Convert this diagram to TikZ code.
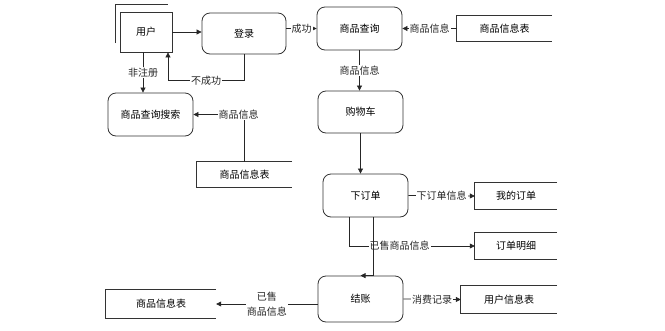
\documentclass[tikz,border=0pt]{standalone}
\usepackage{fontspec}
\setmainfont{Noto Sans CJK SC}
\usetikzlibrary{arrows.meta}
\newcommand\storelines[1]{\draw[line width=0.8pt,black!80] (#1.north east) -- (#1.north west) -- (#1.south west) -- (#1.south east);}
\begin{document}
\begin{tikzpicture}[x=1pt,y=-1pt,font=\fontsize{10}{15}\selectfont,
  proc/.style={draw=black!80,line width=0.8pt,rounded corners=8pt,minimum width=85pt,minimum height=43pt,inner sep=0pt},
  entity/.style={draw=black!80,line width=0.8pt,minimum width=52pt,minimum height=40pt,inner sep=0pt},
  store/.style={minimum height=26pt,inner sep=0pt},
  flow/.style={-{Triangle[length=5pt,width=5pt]},line width=0.7pt,black!85},
  lbl/.style={fill=white,inner sep=1pt}]
\useasboundingbox (0,0) rectangle (665,330);

\node[entity] (user) at (146,32) {用户};
\draw[line width=0.8pt,black!80] (115,43) -- (115,4) -- (168,4);
\node[proc,minimum width=84pt,minimum height=41pt] (login) at (244,33.5) {登录};
\node[proc] (query) at (359.5,28.5) {商品查询};
\node[store,minimum width=95pt,minimum height=25pt] (goodsA) at (504.5,28.5) {商品信息表};
\storelines{goodsA}

\node[proc] (search) at (150.5,114.5) {商品查询搜索};
\node[store,minimum width=95pt,minimum height=25pt] (goodsB) at (244.5,174.5) {商品信息表};
\storelines{goodsB}

\node[proc,minimum height=42pt] (cart) at (360.5,112) {购物车};
\node[proc] (order) at (365.5,195.5) {下订单};
\node[store,minimum width=82pt] (myorder) at (516,196) {我的订单};
\storelines{myorder}
\node[store,minimum width=82pt] (detail) at (516,246) {订单明细};
\storelines{detail}

\node[proc,minimum height=46pt] (pay) at (360.5,299) {结账};
\node[store,minimum width=110pt,minimum height=28pt] (goodsC) at (161,304) {商品信息表};
\storelines{goodsC}
\node[store,minimum width=96pt,minimum height=27pt] (userinfo) at (509,299.5) {用户信息表};
\storelines{userinfo}

\draw[flow] (user.east) -- (user.east -| login.west);
\draw[flow] (login.east |- query.east) -- node[lbl] {成功} (query.west);
\draw[flow] (login.south) -- ++(0,26) -| node[lbl,pos=0.25] {不成功} ([xshift=22]user.south);
\draw[flow] ([xshift=-3]user.south) -- node[lbl] {非注册} ([xshift=-3]user.south |- search.north);
\draw[flow] (goodsA.west) -- node[lbl] {商品信息} (query.east);
\draw[flow] (goodsB.north) |- node[lbl,pos=0.5,xshift=-6] {商品信息} (search.east);
\draw[flow] (query.south) -- node[lbl] {商品信息} (query.south |- cart.north);
\draw[flow] (cart.south) -- (cart.south |- order.north);
\draw[flow] (order.east) -- node[lbl] {下订单信息} (myorder.west);
\draw[flow] ([xshift=-16]order.south) |- node[lbl,pos=0.7] {已售商品信息} (detail.west);
\draw[flow] ([xshift=8]order.south) -- ([xshift=13]pay.north) -- (pay.north);
\draw[flow] (pay.west |- goodsC.east) -- node[lbl,align=center] {已售\\商品信息} (goodsC.east);
\draw[flow] (pay.east) -- node[lbl] {消费记录} (userinfo.west);
\end{tikzpicture}
\end{document}
